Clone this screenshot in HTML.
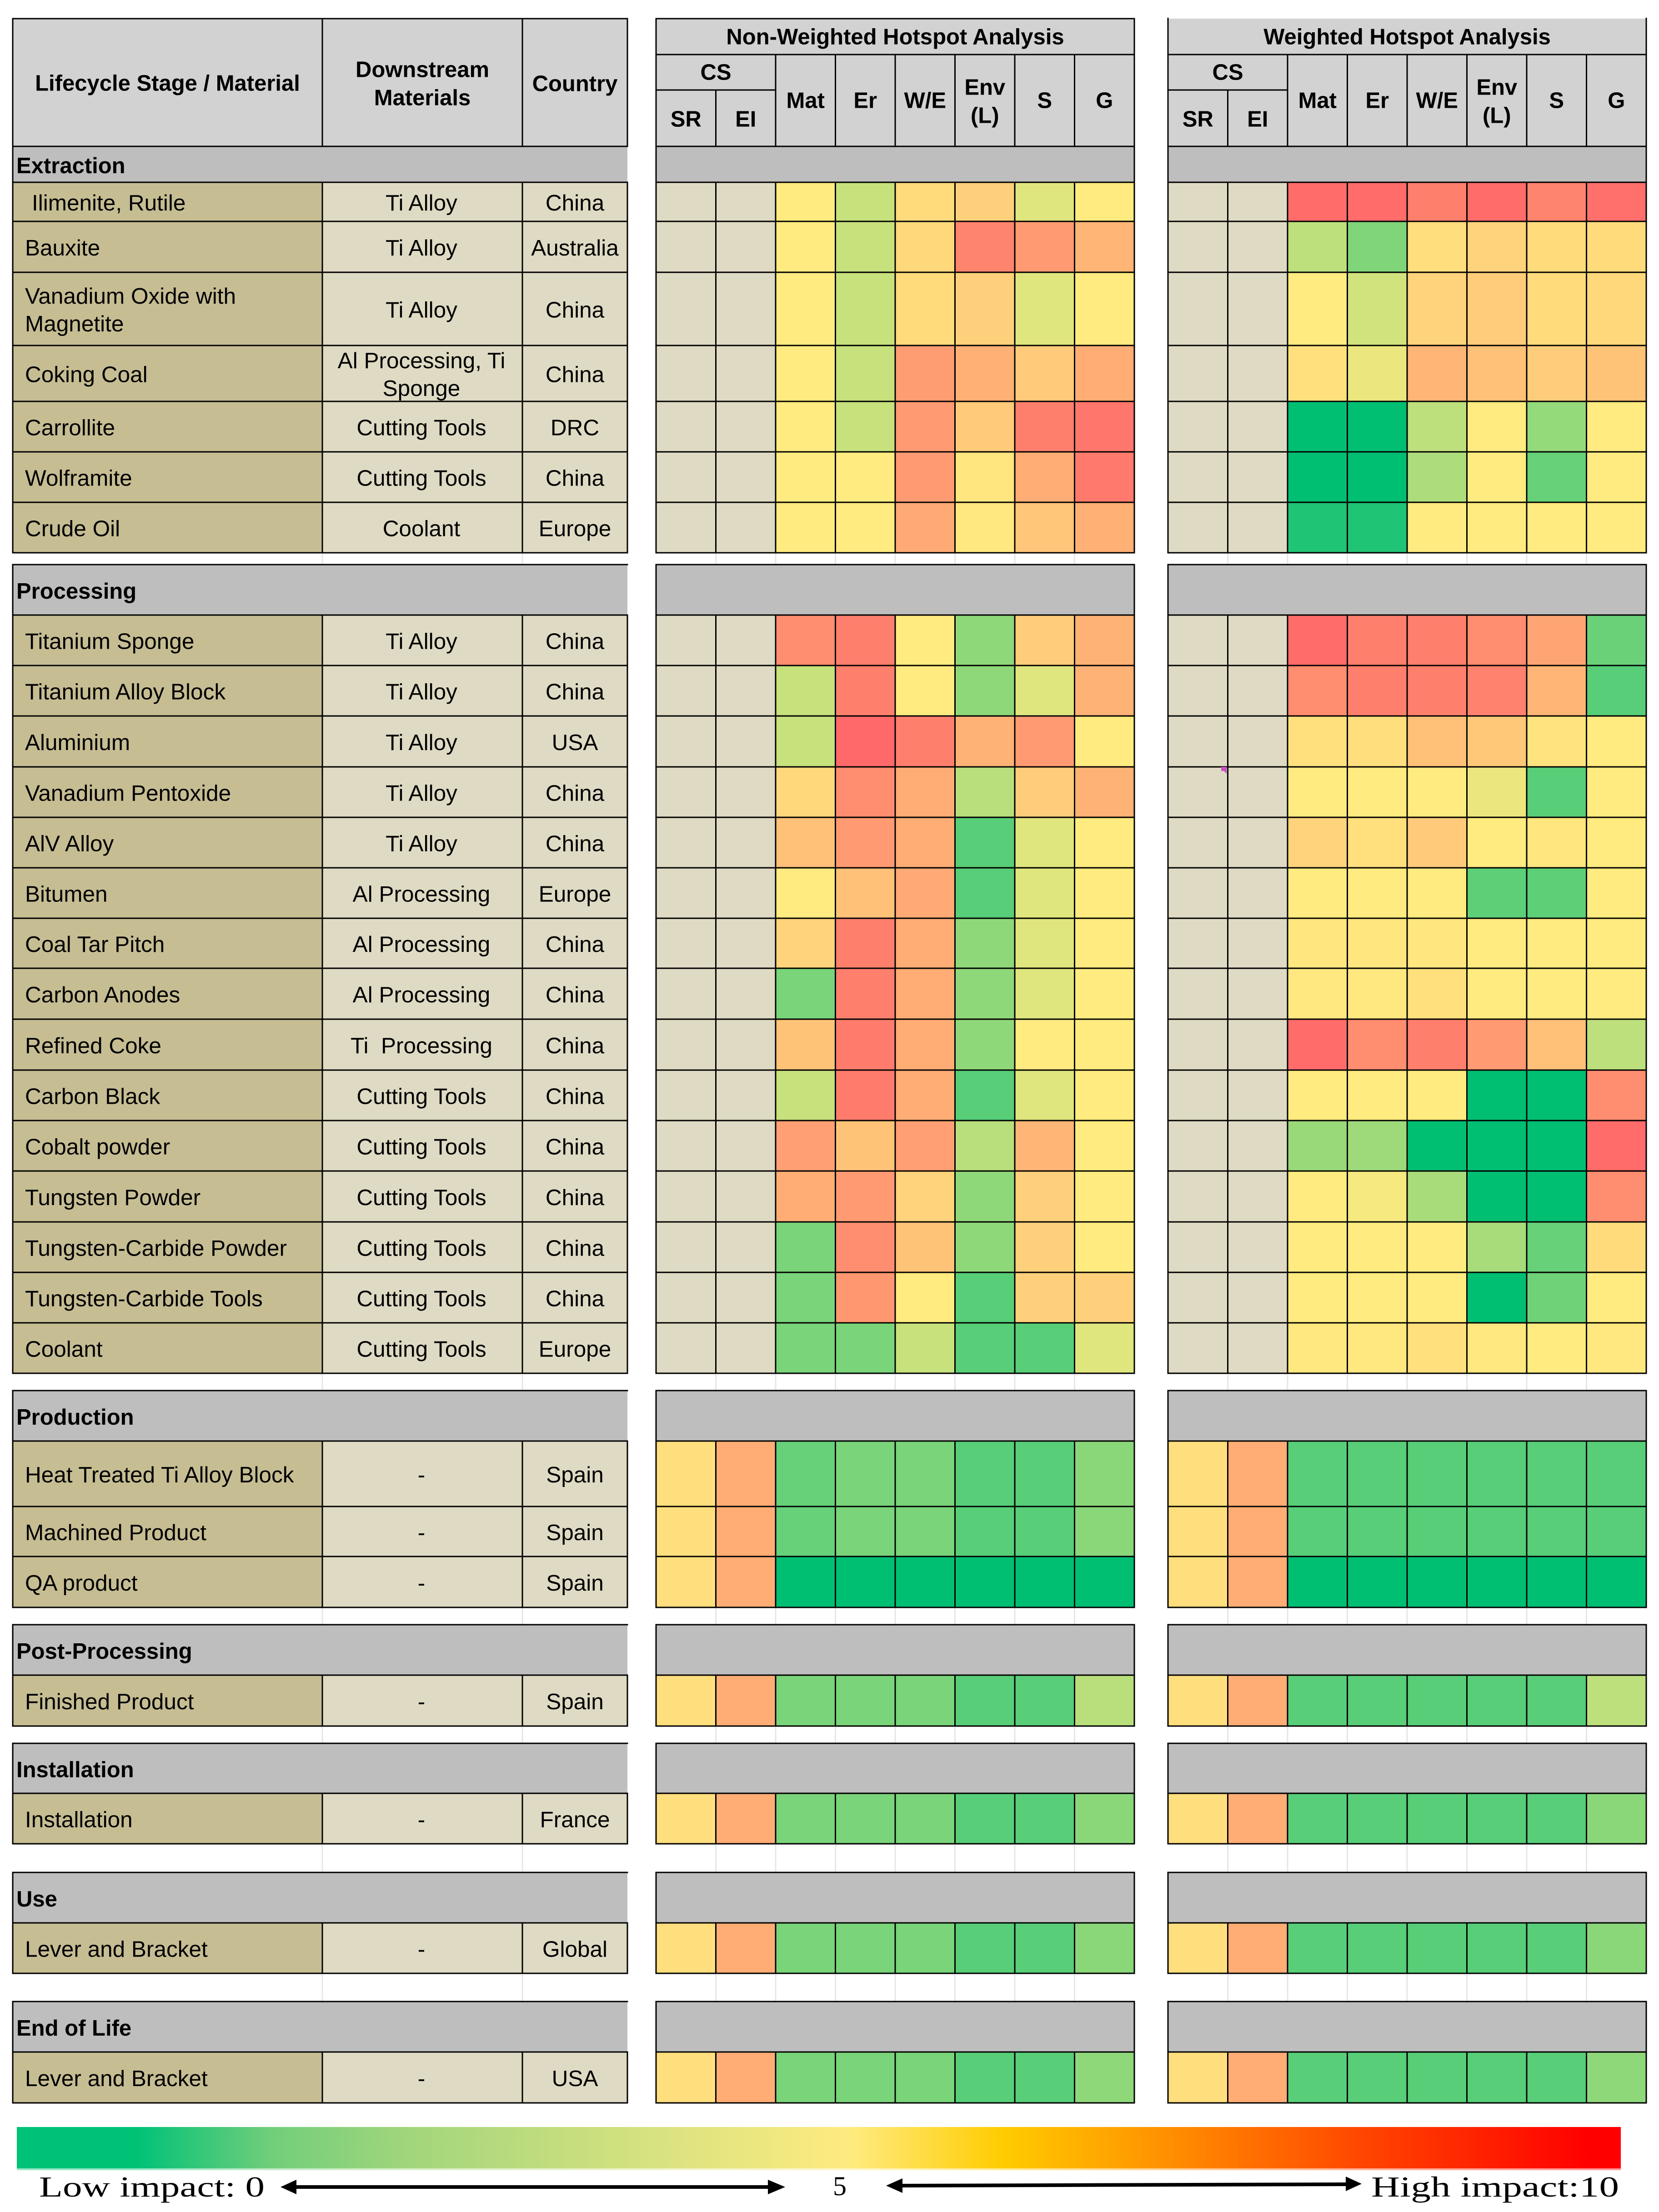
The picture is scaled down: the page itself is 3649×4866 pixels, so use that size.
<!DOCTYPE html>
<html lang="en">
<head>
<meta charset="utf-8">
<title>Lifecycle hotspot analysis</title>
<style>
html,body{margin:0;padding:0;background:#fff;}
svg{display:block;}
text{font-family:"Liberation Sans",Arial,sans-serif;fill:#000;}
.serif{font-family:"Liberation Serif","Times New Roman",serif;}
</style>
</head>
<body>
<svg id="chart" xmlns="http://www.w3.org/2000/svg" width="3649" height="4866" viewBox="0 0 3649 4866">
  <defs>
    <linearGradient id="legendGradient" x1="0" x2="1" y1="0" y2="0">
      <stop offset="0" stop-color="#00C277"/>
      <stop offset="0.075" stop-color="#00C277"/>
      <stop offset="0.16" stop-color="#73CE7B"/>
      <stop offset="0.25" stop-color="#A4D67C"/>
      <stop offset="0.41" stop-color="#DCE380"/>
      <stop offset="0.52" stop-color="#FFEB80"/>
      <stop offset="0.615" stop-color="#FFCC00"/>
      <stop offset="0.71" stop-color="#FF9400"/>
      <stop offset="0.84" stop-color="#FF4500"/>
      <stop offset="0.98" stop-color="#FF0000"/>
      <stop offset="1" stop-color="#FF0000"/>
    </linearGradient>
  </defs>
  <rect x="0" y="0" width="3649" height="4866" fill="#ffffff"/>
  <g id="table"></g>
  <g>
    <rect x="37" y="4679" width="3528" height="95" fill="url(#legendGradient)"/>
    <rect x="37" y="4770" width="3528" height="4" fill="#ffffff" opacity="0.6"/>
    <text class="serif" x="86" y="4832" font-size="64" textLength="496" lengthAdjust="spacingAndGlyphs">Low impact: 0</text>
    <text class="serif" x="1847" y="4829" font-size="60" text-anchor="middle">5</text>
    <text class="serif" x="3016" y="4832" font-size="64" textLength="545" lengthAdjust="spacingAndGlyphs">High impact:10</text>
    <g>
      <rect x="650" y="4807" width="1045" height="8" fill="#000"/>
      <polygon points="617,4811 652,4795 652,4827" fill="#000"/>
      <polygon points="1727,4811 1689,4795 1689,4827" fill="#000"/>
    </g>
    <g>
      <polygon points="1980,4804 2965,4801 2965,4809 1980,4812" fill="#000"/>
      <polygon points="1949,4808 1985,4792 1985,4824" fill="#000"/>
      <polygon points="2995,4804 2960,4788 2960,4820" fill="#000"/>
    </g>
  </g>
  <polygon points="2686,1687 2698,1687 2698,1702 2692,1696 2686,1696" fill="#C850C0"/>
</svg>
<script>
// ---------- categories ----------
const stages = ['Extraction','Processing','Production','Post-Processing','Installation','Use','End of Life'];
const materials = [
  ['Ilimenite, Rutile'],['Bauxite'],['Vanadium Oxide with','Magnetite'],['Coking Coal'],['Carrollite'],['Wolframite'],['Crude Oil'],
  ['Titanium Sponge'],['Titanium Alloy Block'],['Aluminium'],['Vanadium Pentoxide'],['AlV Alloy'],['Bitumen'],['Coal Tar Pitch'],['Carbon Anodes'],['Refined Coke'],['Carbon Black'],['Cobalt powder'],['Tungsten Powder'],['Tungsten-Carbide Powder'],['Tungsten-Carbide Tools'],['Coolant'],
  ['Heat Treated Ti Alloy Block'],['Machined Product'],['QA product'],
  ['Finished Product'],
  ['Installation'],
  ['Lever and Bracket'],
  ['Lever and Bracket']
];
const downstream = [
  ['Ti Alloy'],['Ti Alloy'],['Ti Alloy'],['Al Processing, Ti','Sponge'],['Cutting Tools'],['Cutting Tools'],['Coolant'],
  ['Ti Alloy'],['Ti Alloy'],['Ti Alloy'],['Ti Alloy'],['Ti Alloy'],['Al Processing'],['Al Processing'],['Al Processing'],['Ti\u00a0 Processing'],['Cutting Tools'],['Cutting Tools'],['Cutting Tools'],['Cutting Tools'],['Cutting Tools'],['Cutting Tools'],
  ['-'],['-'],['-'],['-'],['-'],['-'],['-']
];
const countries = ['China','Australia','China','China','DRC','China','Europe',
  'China','China','USA','China','China','Europe','China','China','China','China','China','China','China','China','Europe',
  'Spain','Spain','Spain','Spain','France','Global','USA'];
const scoreColumns = ['Mat','Er','W/E','Env|(L)','S','G'];

// ---------- series values (0 = low impact, 10 = high impact, null = not assessed) ----------
const csSR = [null,null,null,null,null,null,null,
  null,null,null,null,null,null,null,null,null,null,null,null,null,null,null,
  5.5,5.5,5.5,5.5,5.5,5.5,5.5];
const csEI = [null,null,null,null,null,null,null,
  null,null,null,null,null,null,null,null,null,null,null,null,null,null,null,
  7.3,7.3,7.3,7.3,7.3,7.3,7.3];
const nonWeightedScores = [
  [5,3.9,5.6,6,4.4,5],
  [5,3.9,5.7,8.8,8,7],
  [5,3.9,5.6,6,4.4,5],
  [5,3.9,7.9,7.2,6.2,7.3],
  [5,3.9,8,6.2,9,9.3],
  [5,5,8,5.2,7.3,9.2],
  [5,5,7.4,5.1,6.4,7.2],
  [8.5,9,5,2.8,6.1,7.1],
  [3.9,9,5,2.8,4.4,7.1],
  [3.9,9.8,9,7.1,8,5],
  [5.7,8.5,7.3,3.6,6.1,7.1],
  [6.6,8,7.3,1.7,4.4,5],
  [5,6.6,7.4,1.7,4.4,5],
  [5.9,9,7.3,2.8,4.4,5],
  [2.4,9,7.3,2.8,4.4,5],
  [6.5,9.1,7.3,2.8,5,5],
  [3.9,9.1,7.3,1.7,4.4,5],
  [7.8,6.5,7.8,3.6,7,5],
  [7.3,8,5.9,2.8,6,5],
  [2.4,8.5,6.5,2.8,6,5],
  [2.4,8.1,5,1.7,6,6],
  [2.4,2.4,3.9,1.7,1.7,4.4],
  [2,2.4,2.4,1.7,1.7,2.7],
  [2,2.4,2.4,1.7,1.7,2.7],
  [0,0,0,0,0,0],
  [2.4,2.4,2.4,1.7,1.7,3.6],
  [2.4,2.4,2.4,1.7,1.7,2.7],
  [2.4,2.4,2.4,1.7,1.7,2.7],
  [2.4,2.4,2.4,1.7,1.7,2.8]
];
const weightedScores = [
  [9.7,9.7,9,9.7,8.8,9.6],
  [3.7,2.5,5.5,5.9,5.6,5.6],
  [5,4.1,5.9,6.1,5.6,5.7],
  [5.4,4.6,7,6.6,6.1,6.5],
  [0,0,3.7,5,2.9,5],
  [0,0,3.4,5,2,5],
  [0.6,0.6,5,5,5,5],
  [9.7,9,9,8.5,7.6,2.1],
  [8.5,9,9,8.9,7,1.7],
  [5.4,5.5,6.6,6.3,5.3,5],
  [5,5,5,4.6,1.7,5],
  [5.9,5.4,6.2,5,5.2,5],
  [5,5,5,1.8,1.8,5],
  [5.2,5.2,5.2,5,5,5],
  [5.1,5.1,5.4,5,5,5],
  [9.7,8.5,9,8,6.6,3.7],
  [5,5,5,0,0,8.5],
  [3,3.1,0,0,0,9.7],
  [5,4.8,3.3,0,0,8.5],
  [5,5,5,3.3,2,5.6],
  [5,5,5,0,2.2,5],
  [5.1,5.1,5.4,5.1,5,5.1],
  [1.7,1.7,1.7,1.7,1.7,1.7],
  [1.7,1.7,1.7,1.7,1.7,1.7],
  [0,0,0,0,0,0],
  [1.7,1.7,1.7,1.7,1.7,3.7],
  [1.7,1.7,1.7,1.7,1.7,2.7],
  [1.7,1.7,1.7,1.7,1.7,2.7],
  [1.7,1.7,1.7,1.7,1.7,2.8]
];

// ---------- layout (not data) ----------
const sectionLayout = [
  {top:322, head:401, edges:[487,599,760,883,994,1105,1216]},
  {top:1242,head:1353,edges:[1464,1575,1687,1798,1909,2020,2130,2242,2354,2465,2576,2688,2799,2910,3021]},
  {top:3059,head:3170,edges:[3314,3424,3536]},
  {top:3574,head:3685,edges:[3797]},
  {top:3835,head:3945,edges:[4056]},
  {top:4119,head:4230,edges:[4341]},
  {top:4403,head:4514,edges:[4626]}
];
const FONT_REGULAR = 49.5;
const FONT_BOLD = 49;
const LINE = 3;
const leftCols = {x0:28, x1:709, x2:1149, x3:1380};
const heatPanels = [
  {name:'non-weighted', title:'Non-Weighted Hotspot Analysis', x0:1443, step:131.5, scores:nonWeightedScores, topRule:true},
  {name:'weighted', title:'Weighted Hotspot Analysis', x0:2569, step:131.5, scores:weightedScores, topRule:false}
];
const NOT_ASSESSED = '#DFDAC3';
const root = document.getElementById('table');
const NS = 'http://www.w3.org/2000/svg';

function lerp(a,b,t){return Math.round(a+(b-a)*t);}
function colorScale(v){
  const low=[0,191,115], mid=[255,235,127], high=[255,100,105];
  const c = v<=5 ? [low,mid,v/5] : [mid,high,(v-5)/5];
  return 'rgb('+lerp(c[0][0],c[1][0],c[2])+','+lerp(c[0][1],c[1][1],c[2])+','+lerp(c[0][2],c[1][2],c[2])+')';
}
function xBand(panel,col){return panel.x0+col*panel.step;}
function box(x,y,w,h,fill,sw){
  const el=document.createElementNS(NS,'rect');
  el.setAttribute('x',x);el.setAttribute('y',y);el.setAttribute('width',w);el.setAttribute('height',h);
  el.setAttribute('fill',fill);
  if(sw){el.setAttribute('stroke','#000');el.setAttribute('stroke-width',sw);}
  root.appendChild(el);
  return el;
}
function label(str,x,cy,anchor,bold){
  const size=bold?FONT_BOLD:FONT_REGULAR;
  const el=document.createElementNS(NS,'text');
  el.setAttribute('x',x);el.setAttribute('y',cy+size*0.36);
  el.setAttribute('font-size',size);
  el.setAttribute('text-anchor',anchor);
  if(bold){el.setAttribute('font-weight','bold');}
  el.textContent=str;
  root.appendChild(el);
  return el;
}
function lines(arr,x,cy,anchor,bold,gap){
  return arr.map(function(s,i){return label(s,x,cy+(i-(arr.length-1)/2)*gap,anchor,bold);});
}

// ---------- faint spreadsheet gridlines in the gaps ----------
const gapColumns = [leftCols.x1,leftCols.x2];
heatPanels.forEach(function(p){for(let c=1;c<8;c++){gapColumns.push(xBand(p,c));}});
sectionLayout.forEach(function(sec,i){
  if(i===0){return;}
  const prev=sectionLayout[i-1];
  const y0=prev.edges[prev.edges.length-1];
  gapColumns.forEach(function(x){
    const g=box(x-1.5,y0,3,sec.top-y0,'#E6E6E6');
    
    
  });
});

// ---------- table header ----------
const HEAD_TOP=41, HEAD_BOTTOM=322;
const headA=box(leftCols.x0,HEAD_TOP,leftCols.x1-leftCols.x0,HEAD_BOTTOM-HEAD_TOP,'#D2D2D2',LINE);


const headB=box(leftCols.x1,HEAD_TOP,leftCols.x2-leftCols.x1,HEAD_BOTTOM-HEAD_TOP,'#D2D2D2',LINE);


const headC=box(leftCols.x2,HEAD_TOP,leftCols.x3-leftCols.x2,HEAD_BOTTOM-HEAD_TOP,'#D2D2D2',LINE);


const t1=label('Lifecycle Stage / Material',(leftCols.x0+leftCols.x1)/2,182,'middle',true);


lines(['Downstream','Materials'],(leftCols.x1+leftCols.x2)/2,183,'middle',true,62).forEach(function(el){
  
  
});
const t3=label('Country',(leftCols.x2+leftCols.x3)/2,183,'middle',true);



heatPanels.forEach(function(p){
  const w8=p.step*8;
  const a=box(p.x0,HEAD_TOP,w8,120-HEAD_TOP,'#D2D2D2',p.topRule?LINE:0);
  
  
  if(!p.topRule){
    const edgeL=box(p.x0-1.5,HEAD_TOP-2,LINE,80,'#000');
    
    
    const edgeR=box(p.x0+w8-1.5,HEAD_TOP-2,LINE,80,'#000');
    
    
  }
  const at=label(p.title,p.x0+w8/2,80,'middle',true);
  
  
  const cs=box(p.x0,120,p.step*2,198-120,'#D2D2D2',LINE);
  
  
  const cst=label('CS',p.x0+p.step,158,'middle',true);
  
  
  ['SR','EI'].forEach(function(n,i){
    const c=box(xBand(p,i),198,p.step,HEAD_BOTTOM-198,'#D2D2D2',LINE);
    
    
    const t=label(n,xBand(p,i)+p.step/2,261,'middle',true);
    
    
  });
  scoreColumns.forEach(function(n,i){
    const c=box(xBand(p,i+2),120,p.step,HEAD_BOTTOM-120,'#D2D2D2',LINE);
    
    
    const cx=xBand(p,i+2)+p.step/2;
    const parts=n.split('|');
    const ts=parts.length>1?lines(parts,cx,222,'middle',true,62):[label(n,cx,220,'middle',true)];
    ts.forEach(function(t){
      
      
    });
  });
});

// ---------- sections and rows ----------
let rowIndex=0;
sectionLayout.forEach(function(sec,s){
  const sa=box(leftCols.x0,sec.top,leftCols.x3-leftCols.x0,sec.head-sec.top,'#BEBEBE');
  
  
  const st=label(stages[s],36,(sec.top+sec.head)/2+2,'start',true);
  
  
  heatPanels.forEach(function(p){
    const b=box(p.x0,sec.top,p.step*8,sec.head-sec.top,'#BEBEBE',LINE);
    
    
  });
  let y0=sec.head;
  sec.edges.forEach(function(y1){
    const r=rowIndex, cy=(y0+y1)/2, h=y1-y0;
    const m=box(leftCols.x0,y0,leftCols.x1-leftCols.x0,h,'#C6BD93',LINE);
    
    
    const d=box(leftCols.x1,y0,leftCols.x2-leftCols.x1,h,'#DFDAC3',LINE);
    
    
    const c=box(leftCols.x2,y0,leftCols.x3-leftCols.x2,h,'#DFDAC3',LINE);
    
    
    lines(materials[r],r===0?70:55,cy+1,'start',false,61).forEach(function(el){
      
      
    });
    lines(downstream[r],(leftCols.x1+leftCols.x2)/2-2,cy+1,'middle',false,61).forEach(function(el){
      
      
    });
    const ct=label(countries[r],(leftCols.x2+leftCols.x3)/2,cy+1,'middle',false);
    
    
    heatPanels.forEach(function(p){
      const cells=[csSR[r],csEI[r]].concat(p.scores[r]);
      cells.forEach(function(v,col){
        const cell=box(xBand(p,col),y0,p.step,h,v===null?NOT_ASSESSED:colorScale(v),LINE);
        
        
      });
    });
    y0=y1;
    rowIndex++;
  });
});

// ---------- rules around the stage bands of the label block (no right edge there) ----------
sectionLayout.forEach(function(sec){
  const topRule=box(leftCols.x0-1.5,sec.top-1.5,leftCols.x3-leftCols.x0+3,LINE,'#000');
  
  
  const leftEdge=box(leftCols.x0-1.5,sec.top,LINE,sec.head-sec.top,'#000');
  
  
});
</script>
</body>
</html>
